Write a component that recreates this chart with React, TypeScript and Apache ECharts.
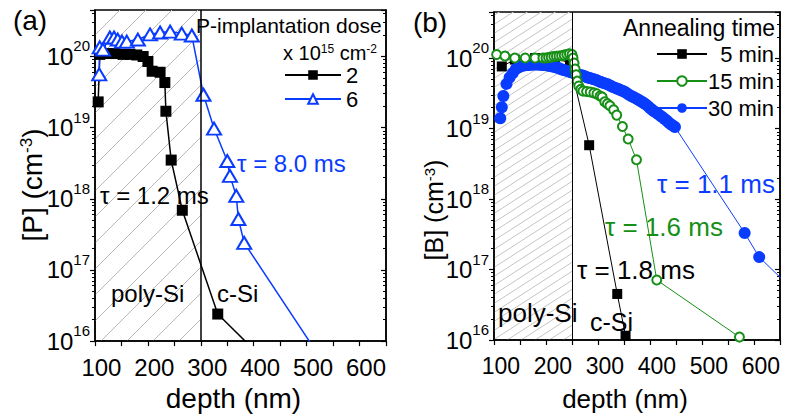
import React, { useEffect, useRef } from 'react';
import * as echarts from 'echarts';

const FONT = '"Liberation Sans", Arial, Helvetica, sans-serif';
const BLUE = '#0a3cff';
const GREEN = '#168f16';

// ---------- Panel (a): P-implantation dose ----------
const depthA_dose2 = [56, 59, 75, 88, 103, 116, 129, 141, 150, 158, 173, 182, 184, 194, 215, 282, 347];
const concA_dose2 = [2.3e19, 1.07e20, 1.1e20, 1.1e20, 1.07e20, 1.07e20, 1.05e20, 1.0e20, 8.5e19, 6.2e19, 6.0e19, 4.3e19, 1.7e19, 3.5e18, 6.9e17, 2.4e16, 8e15];
const depthA_dose6 = [58, 59, 65, 78, 86, 93, 101, 110, 131, 154, 173, 192, 214, 233, 255, 275, 300, 305, 317, 321, 332, 471];
const concA_dose6 = [5.6e19, 1.34e20, 1.25e20, 1.85e20, 1.85e20, 1.73e20, 1.62e20, 1.62e20, 1.73e20, 2.04e20, 2.17e20, 2.24e20, 2.1e20, 1.97e20, 2.9e19, 9.7e18, 3.4e18, 2.1e18, 1.1e18, 5.2e17, 2.4e17, 6.6e15];
const polyA = 250;

// ---------- Panel (b): annealing time ----------
const depthB_5 = [65, 90, 129, 167, 196, 233, 287, 303];
const concB_5 = [7.6e19, 9.5e19, 1.0e20, 1.0e20, 8.5e19, 5.8e18, 4.5e16, 1.15e16];
const depthB_15 = [55, 71, 90, 110, 129, 144, 150, 155, 160, 165, 170, 175, 180, 185, 190, 195, 200, 202, 204, 206, 208, 210, 213, 217, 221, 228, 235, 242, 248, 254, 258, 263, 268, 273, 280, 286, 297, 308, 324, 363, 522];
const concB_15 = [1.12e20, 1.07e20, 1.0e20, 1.0e20, 1.0e20, 1.0e20, 1.0e20, 1.02e20, 1.03e20, 1.05e20, 1.06e20, 1.07e20, 1.08e20, 1.1e20, 1.12e20, 1.15e20, 1.12e20, 1.0e20, 8.5e19, 7.0e19, 5.8e19, 4.7e19, 4.0e19, 3.6e19, 3.4e19, 3.35e19, 3.3e19, 3.2e19, 3.1e19, 2.9e19, 2.8e19, 2.4e19, 2.25e19, 2.1e19, 1.85e19, 1.55e19, 1.07e19, 7.1e18, 3.6e18, 7.1e16, 1.1e16];
const depthB_30 = [62, 65, 68, 74, 80, 86, 92, 98, 104, 110, 114, 118, 122, 126, 130, 134, 138, 142, 146, 150, 154, 158, 162, 166, 170, 174, 178, 182, 186, 190, 194, 198, 202, 206, 210, 214, 218, 222, 226, 230, 234, 238, 242, 246, 250, 254, 258, 262, 266, 270, 274, 278, 282, 286, 290, 294, 298, 302, 306, 310, 314, 318, 322, 326, 330, 334, 338, 342, 346, 350, 354, 358, 362, 366, 370, 374, 378, 382, 386, 390, 394, 398, 532, 560, 620];
const concB_30 = [1.4e19, 2.0e19, 2.9e19, 4.3e19, 5.3e19, 6.1e19, 7.0e19, 7.4e19, 7.7e19, 7.9e19, 7.95e19, 8.0e19, 8.05e19, 8.1e19, 8.1e19, 8.1e19, 8.05e19, 8.0e19, 7.95e19, 7.9e19, 7.8e19, 7.7e19, 7.6e19, 7.5e19, 7.35e19, 7.2e19, 7.0e19, 6.8e19, 6.7e19, 6.6e19, 6.45e19, 6.3e19, 6.15e19, 6.0e19, 5.9e19, 5.8e19, 5.7e19, 5.6e19, 5.45e19, 5.3e19, 5.2e19, 5.1e19, 5.0e19, 4.9e19, 4.75e19, 4.6e19, 4.5e19, 4.4e19, 4.3e19, 4.2e19, 4.05e19, 3.9e19, 3.8e19, 3.7e19, 3.6e19, 3.5e19, 3.4e19, 3.3e19, 3.15e19, 3.0e19, 2.9e19, 2.8e19, 2.7e19, 2.6e19, 2.5e19, 2.4e19, 2.3e19, 2.2e19, 2.08e19, 1.95e19, 1.85e19, 1.75e19, 1.68e19, 1.6e19, 1.52e19, 1.45e19, 1.37e19, 1.3e19, 1.22e19, 1.15e19, 1.1e19, 1.05e19, 3.3e17, 1.5e17, 5.6e16];
const polyB = 200;

const depthTicks = { min: 50, max: 600, interval: 50 };
const concRange = { min: 1e16, max: 4.5e20 };

const pairs = (xs: number[], ys: number[]) => xs.map((x, i) => [x, ys[i]]);

function hatchPattern(w: number, h: number, color: string) {
  const c = document.createElement('canvas');
  c.width = w;
  c.height = h;
  const ctx = c.getContext('2d')!;
  ctx.strokeStyle = color;
  ctx.lineWidth = 1;
  for (let k = -1; k <= 1; k++) {
    ctx.beginPath();
    ctx.moveTo(-w, 2 * h + k * h);
    ctx.lineTo(2 * w, -h + k * h);
    ctx.stroke();
  }
  return { image: c, repeat: 'repeat' } as any;
}

const logLabel = (v: number) => {
  const l = Math.log10(v);
  const e = Math.round(l);
  if (Math.abs(l - e) > 0.01) return '';
  return `{b|10}{s|${e}}`;
};
const logRich = {
  b: { fontSize: 24, fontFamily: FONT, color: '#000', lineHeight: 36 },
  s: { fontSize: 15, fontFamily: FONT, color: '#000', verticalAlign: 'top', lineHeight: 15 },
};

function xAxisFor(grid: number, nameSize: number, nameGap: number, labelSize: number, shift: number) {
  return {
    gridIndex: grid,
    type: 'value',
    ...depthTicks,
    name: 'depth (nm)',
    nameLocation: 'middle',
    nameGap,
    nameTextStyle: { fontSize: nameSize, fontFamily: FONT, color: '#000', padding: [0, shift, 0, 0] },
    axisLine: { onZero: false, lineStyle: { color: '#000', width: 1.5 } },
    axisTick: { show: true, inside: false, length: 5, lineStyle: { color: '#000', width: 1.2 } },
    axisLabel: {
      formatter: (v: number) => (v % 100 === 0 ? String(v) : ''),
      align: 'right',
      fontSize: labelSize,
      fontFamily: FONT,
      color: '#000',
      margin: 14,
    },
    splitLine: { show: false },
  };
}

function yAxesFor(grid: number) {
  const common = {
    gridIndex: grid,
    type: 'log',
    logBase: 10,
    ...concRange,
    splitLine: { show: false },
    minorSplitLine: { show: false },
  };
  return [
    {
      ...common,
      position: 'left',
      axisLine: { show: true, lineStyle: { color: '#000', width: 1.5 } },
      axisTick: { show: true, inside: false, length: 5, lineStyle: { color: '#000', width: 1.2 } },
      minorTick: { show: true, splitNumber: 9, length: 3, lineStyle: { color: '#000', width: 1 } },
      axisLabel: { formatter: logLabel, rich: logRich, margin: 5, showMaxLabel: false },
    },
    {
      ...common,
      position: 'right',
      axisLine: { show: true, lineStyle: { color: '#000', width: 1.5 } },
      axisTick: { show: true, inside: true, length: 5, lineStyle: { color: '#000', width: 1.2 } },
      minorTick: { show: true, splitNumber: 9, length: 3, lineStyle: { color: '#000', width: 1 } },
      axisLabel: { show: false },
    },
  ];
}

const txt = (x: number, y: number, text: string, size: number, color = '#000', align = 'left', extra: any = {}) => ({
  type: 'text',
  x,
  y,
  z: 100,
  ...extra,
  style: { text, fontSize: size, fontFamily: FONT, fill: color, align, verticalAlign: 'middle', ...(extra.style || {}) },
});

export default function App() {
  const ref = useRef<HTMLDivElement>(null);
  useEffect(() => {
    if (!ref.current) return;
    const chart = echarts.init(ref.current, undefined, { renderer: 'svg' });
    const supRich = (size: number) => ({
      n: { fontSize: size, fontFamily: FONT, color: '#000', lineHeight: size },
      s: { fontSize: Math.round(size * 0.6), fontFamily: FONT, color: '#000', verticalAlign: 'top', lineHeight: Math.round(size * 0.35) },
    });
    const option: any = {
      animation: false,
      backgroundColor: '#fff',
      grid: [
        { left: 95, top: 10, width: 291, height: 332, show: true, borderColor: '#000', borderWidth: 1.5, containLabel: false },
        { left: 494, top: 12, width: 286, height: 335, show: true, borderColor: '#000', borderWidth: 1.5, containLabel: false },
      ],
      xAxis: [xAxisFor(0, 28, 42, 24, 14), xAxisFor(1, 26, 46, 23, 24)],
      yAxis: [...yAxesFor(0), ...yAxesFor(1)],
      legend: [
        {
          data: ['2', '6'],
          orient: 'vertical',
          left: 279,
          top: 59,
          itemWidth: 56,
          itemHeight: 12,
          itemGap: 2,
          textStyle: { fontSize: 22, fontFamily: FONT, color: '#000', lineHeight: 20 },
          selectedMode: false,
        },
        {
          data: ['5 min', '15 min', '30 min'],
          orient: 'vertical',
          left: 651,
          top: 38,
          itemWidth: 50,
          itemHeight: 12,
          itemGap: 5,
          formatter: (n: string) => `{r|${n}}`,
          textStyle: {
            fontSize: 22,
            fontFamily: FONT,
            color: '#000',
            rich: { r: { width: 62, align: 'right', fontSize: 22, fontFamily: FONT, color: '#000', lineHeight: 24 } },
          },
          selectedMode: false,
        },
      ],
      series: [
        {
          name: '2',
          type: 'line',
          xAxisIndex: 0,
          yAxisIndex: 0,
          data: pairs(depthA_dose2, concA_dose2),
          symbol: 'rect',
          symbolSize: 11,
          itemStyle: { color: '#000' },
          lineStyle: { color: '#000', width: 1.5 },
          markArea: {
            silent: true,
            z: 0,
            itemStyle: { color: hatchPattern(26, 26, '#b8b8b8') },
            data: [[{ xAxis: depthTicks.min }, { xAxis: polyA }]],
          },
          markLine: {
            silent: true,
            symbol: 'none',
            label: { show: false },
            lineStyle: { color: '#000', type: 'solid', width: 1.5 },
            data: [{ xAxis: polyA }],
          },
        },
        {
          name: '6',
          type: 'line',
          xAxisIndex: 0,
          yAxisIndex: 0,
          data: pairs(depthA_dose6, concA_dose6),
          symbol: 'emptyTriangle',
          symbolSize: [14, 12],
          itemStyle: { color: BLUE, borderWidth: 1.8 },
          lineStyle: { color: BLUE, width: 1.5 },
        },
        {
          name: '5 min',
          type: 'line',
          xAxisIndex: 1,
          yAxisIndex: 2,
          data: pairs(depthB_5, concB_5),
          symbol: 'rect',
          symbolSize: 10,
          itemStyle: { color: '#000' },
          lineStyle: { color: '#000', width: 1 },
          markArea: {
            silent: true,
            z: 0,
            itemStyle: { color: hatchPattern(14, 9, '#c4c4c4') },
            data: [[{ xAxis: depthTicks.min }, { xAxis: polyB }]],
          },
          markLine: {
            silent: true,
            symbol: 'none',
            label: { show: false },
            lineStyle: { color: '#000', type: 'solid', width: 1 },
            data: [{ xAxis: polyB }],
          },
        },
        {
          name: '30 min',
          type: 'line',
          xAxisIndex: 1,
          yAxisIndex: 2,
          data: pairs(depthB_30, concB_30),
          symbol: 'circle',
          symbolSize: 12,
          itemStyle: { color: BLUE },
          lineStyle: { color: BLUE, width: 1 },
        },
        {
          name: '15 min',
          type: 'line',
          xAxisIndex: 1,
          yAxisIndex: 2,
          data: pairs(depthB_15, concB_15),
          symbol: 'emptyCircle',
          symbolSize: 9,
          itemStyle: { color: GREEN, borderWidth: 2 },
          lineStyle: { color: GREEN, width: 1 },
        },
      ],
      graphic: [
        txt(30, 20, '(a)', 28, '#000', 'center'),
        txt(196, 25, 'P-implantation dose', 21),
        txt(283, 53, '', 20, '#000', 'left', {
          style: { text: '{n|x 10}{s|15}{n| cm}{s|-2}', rich: supRich(20) },
        }),
        txt(237, 163, 'τ = 8.0 ms', 24, BLUE),
        txt(100, 195, 'τ = 1.2 ms', 24),
        txt(111, 293, 'poly-Si', 24),
        txt(217, 293, 'c-Si', 24),
        txt(32, 185, '', 28, '#000', 'center', {
          rotation: Math.PI / 2,
          style: { text: '{n|[P] (cm}{s|-3}{n|)}', rich: supRich(28) },
        }),
        txt(430, 22, '(b)', 28, '#000', 'center'),
        txt(623, 28, 'Annealing time', 23),
        txt(657, 184, 'τ = 1.1 ms', 26, BLUE),
        txt(605, 227, 'τ = 1.6 ms', 26, GREEN),
        txt(577, 270, 'τ = 1.8 ms', 26),
        txt(498, 313, 'poly-Si', 26),
        txt(590, 322, 'c-Si', 25),
        txt(434, 210, '', 25, '#000', 'center', {
          rotation: Math.PI / 2,
          style: { text: '{n|[B] (cm}{s|-3}{n|)}', rich: supRich(25) },
        }),
      ],
    };
    chart.setOption(option);
    return () => chart.dispose();
  }, []);
  return <div ref={ref} style={{ position: 'fixed', left: 0, top: 0, width: 789, height: 417 }} />;
}
